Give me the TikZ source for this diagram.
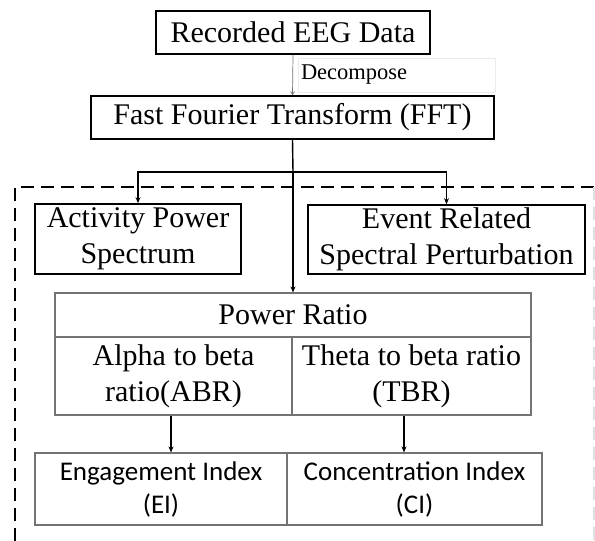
\documentclass[tikz,border=0pt]{standalone}
\usepackage{fontspec}
\setmainfont{Liberation Serif}
\newfontfamily\calib{Carlito}
\usetikzlibrary{arrows.meta}
\tikzset{
  mainbox/.style={draw=black, line width=1.7pt, inner sep=0pt, align=center,
    font=\fontsize{30}{36}\selectfont},
  cellbox/.style={draw=black!55, line width=1.1pt, inner sep=0pt, align=center,
    font=\fontsize{30}{36}\selectfont},
  idxbox/.style={draw=black!55, line width=1.1pt, inner sep=0pt, align=center,
    font=\calib\fontsize{27}{33}\selectfont},
  arr/.style={line width=1.4pt, -{Stealth[length=6pt,width=5pt]}},
  thinarr/.style={draw=black!55, line width=0.7pt, -{Straight Barb[length=3pt,width=4pt]}},
  frame/.style={line width=1.8pt, dash pattern=on 13pt off 7pt},
}
\begin{document}
\begin{tikzpicture}[x=1pt,y=-1pt]
\useasboundingbox (0,0) rectangle (595,541);
% dashed frame
\draw[frame] (15,541) -- (15,187) -- (600,187);
\draw[frame, draw=black!12] (594,187) -- (594,541);
% top boxes
\node[mainbox, minimum width=274pt, minimum height=43pt] (eeg) at (293,32.5) {Recorded EEG Data};
\node[mainbox, minimum width=403pt, minimum height=43pt] (fft) at (292.5,117.5) {Fast Fourier Transform (FFT)};
\node[draw=black!8, line width=0.6pt, inner xsep=3pt, inner ysep=0pt, text width=191pt, align=left,
      minimum height=34pt, font=\fontsize{22.5}{27}\selectfont] (dec) at (396.5,75) {Decompose};
\node[mainbox, minimum width=206pt, minimum height=70pt] (aps) at (138,239) {Activity Power\\Spectrum};
\node[mainbox, minimum width=277pt, minimum height=69pt] (ersp) at (446.5,239.5) {Event Related\\Spectral Perturbation};
% power ratio table
\node[cellbox, minimum width=476pt, minimum height=44pt] (pr) at (293,315) {Power Ratio};
\node[cellbox, minimum width=237pt, minimum height=78pt] (abr) at (173.5,376) {Alpha to beta\\ratio(ABR)};
\node[cellbox, minimum width=239pt, minimum height=78pt] (tbr) at (411.5,376) {Theta to beta ratio\\(TBR)};
% index table
\node[idxbox, minimum width=252pt, minimum height=72pt] (ei) at (161,489) {Engagement Index\\(EI)};
\node[idxbox, minimum width=255pt, minimum height=72pt] (ci) at (414.5,489) {Concentration Index\\(CI)};
% connectors
\draw[thinarr] (eeg.south) -- (fft.north);
\coordinate (br) at (293,172);
\draw[line width=1.4pt] (fft.south) -- (br);
\draw[arr] (br) -- (pr.north);
\draw[arr] (br) -| (aps.north);
\draw[arr] (br) -| (ersp.north);
\draw[arr] (abr.south -| 171,0) -- (ei.north -| 171,0);
\draw[arr] (tbr.south -| 404,0) -- (ci.north -| 404,0);
\end{tikzpicture}
\end{document}
